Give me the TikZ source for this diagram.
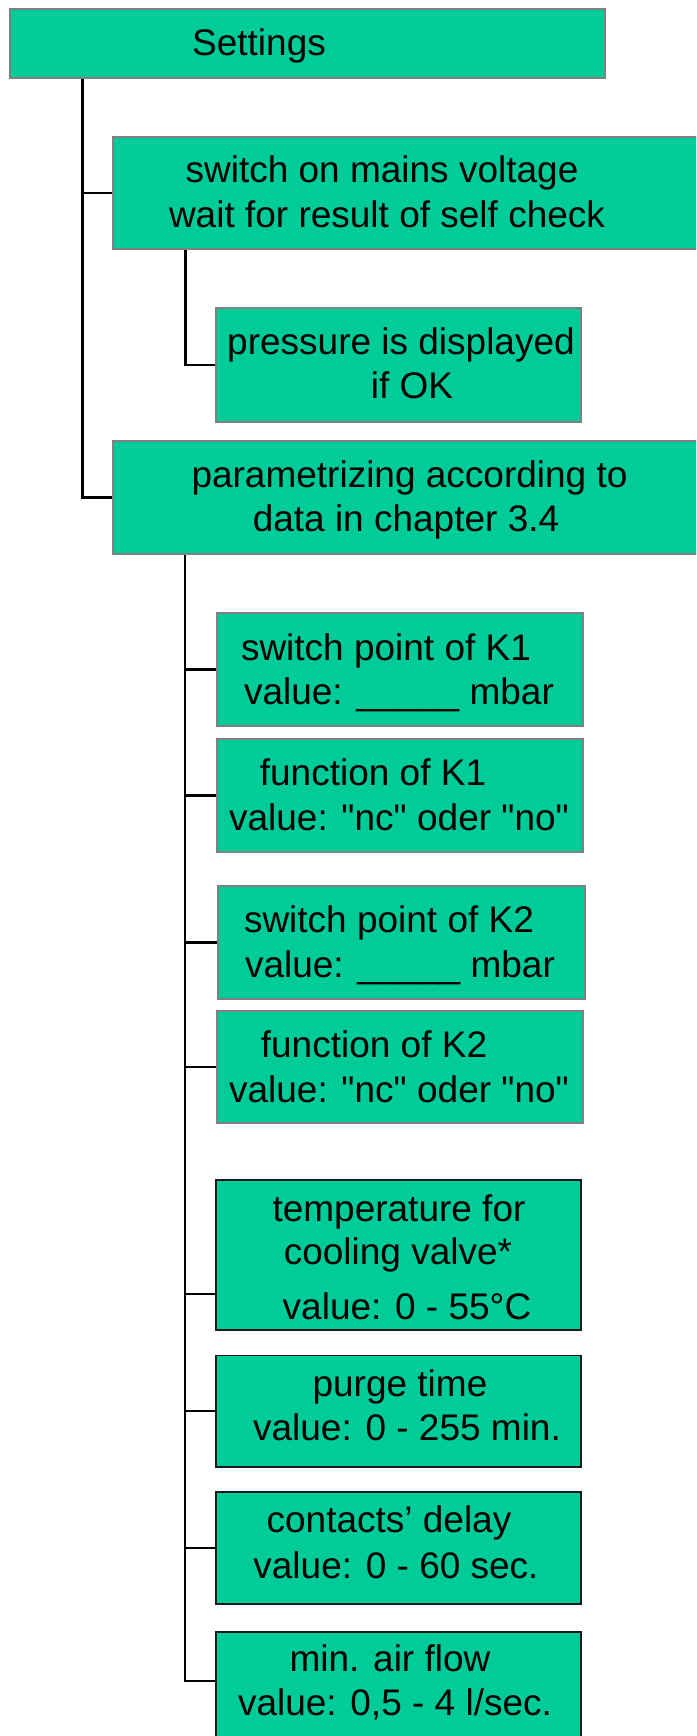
\documentclass[tikz,border=0pt]{standalone}
\usepackage{fontspec}
\newfontfamily\lib{Liberation Sans}
\definecolor{boxgreen}{HTML}{00CC99}
\definecolor{boxgray}{HTML}{808080}
\begin{document}
\begin{tikzpicture}[x=1pt,y=-1pt,
  box/.style={rectangle, draw=boxgray, line width=2pt, fill=boxgreen, inner sep=0pt},
  boxd/.style={box, draw=black!90, line width=1.6pt},
  txt/.style={anchor=base, inner sep=0pt, font=\lib\fontsize{37}{44}\selectfont},
  conn/.style={draw=black, line width=2.2pt}]
\useasboundingbox (0,0) rectangle (696,1736);
\clip (0,0) rectangle (696,1736);
\fill[white] (0,0) rectangle (696,1736);

% boxes
\node[box, minimum width=594.7pt, minimum height=69pt] (set) at (307.2,43.5) {};
\node[box, minimum width=602pt, minimum height=112pt] (b2) at (414,193) {};
\node[box, minimum width=365.7pt, minimum height=114pt] (press) at (398.6,365) {};
\node[box, minimum width=602pt, minimum height=113pt] (param) at (414,497.5) {};
\node[box, minimum width=366pt, minimum height=113pt] (k1) at (400,669.5) {};
\node[box, minimum width=366pt, minimum height=113pt] (f1) at (400,795.5) {};
\node[box, minimum width=367pt, minimum height=113pt] (k2) at (401.5,942.5) {};
\node[box, minimum width=366pt, minimum height=112pt] (f2) at (400,1067) {};
\node[boxd, minimum width=365pt, minimum height=150pt] (temp) at (398.5,1255) {};
\node[boxd, minimum width=365pt, minimum height=111.4pt] (purge) at (398.5,1411.3) {};
\node[boxd, minimum width=365pt, minimum height=111.7pt] (cont) at (398.5,1548.1) {};
\node[boxd, minimum width=365pt, minimum height=128pt] (air) at (398.5,1696) {};

% connectors
\draw[conn] ([xshift=73.6pt]set.south west) |- (b2.west);
\draw[conn] ([xshift=73.6pt]set.south west) |- (param.west);
\draw[conn] ([xshift=73.4pt]b2.south west) |- (press.west);
\draw[conn] ([xshift=72.7pt]param.south west) |- (k1.west);
\draw[conn] ([xshift=72.7pt]param.south west) |- (f1.west);
\draw[conn] ([xshift=72.7pt]param.south west) |- (k2.west);
\draw[conn] ([xshift=72.7pt]param.south west) |- (f2.west);
\draw[conn] ([xshift=72.7pt]param.south west) |- ([yshift=37pt]temp.south west);
\draw[conn] ([xshift=72.7pt]param.south west) |- (purge.west);
\draw[conn] ([xshift=72.7pt]param.south west) |- (cont.west);
\draw[conn] ([xshift=72.7pt]param.south west) |- ([yshift=-50pt]air.north west);

% texts
\node[txt] (tset) at (259,56) {Settings};
\node[txt] (tb2a) at (382,183) {switch on mains voltage};
\node[txt] (tb2b) at (387,228) {wait for result of self check};
\node[txt] (tpra) at (401,354) {pressure is displayed};
\node[txt] (tprb) at (412,398) {if OK};
\node[txt] (tpaa) at (409.5,487) {parametrizing according to};
\node[txt] (tpab) at (406,531) {data in chapter 3.4};
\node[txt] (tk1a) at (386,660) {switch point of K1};
\node[txt] (tk1b) at (399,704) {value: \_\_\_\_\_ mbar};
\node[txt] (tf1a) at (373,785) {function of K1};
\node[txt] (tf1b) at (399,830) {value: "nc" oder "no"};
\node[txt] (tk2a) at (389,932) {switch point of K2};
\node[txt] (tk2b) at (400,977) {value: \_\_\_\_\_ mbar};
\node[txt] (tf2a) at (374,1057) {function of K2};
\node[txt] (tf2b) at (399,1102) {value: "nc" oder "no"};
\node[txt] (ttea) at (399,1221.7) {temperature for};
\node[txt] (tteb) at (398,1264.3) {cooling valve*};
\node[txt] (ttec) at (407,1319) {value: 0 - 55°C};
\node[txt] (tpua) at (400,1396) {purge time};
\node[txt] (tpub) at (407,1440.8) {value: 0 - 255 min.};
\node[txt] (tcoa) at (389,1532) {contacts’ delay};
\node[txt] (tcob) at (396,1578) {value: 0 - 60 sec.};
\node[txt] (taia) at (390,1671.7) {min. air flow};
\node[txt] (taib) at (395,1715) {value: 0,5 - 4 l/sec.};
\end{tikzpicture}
\end{document}
